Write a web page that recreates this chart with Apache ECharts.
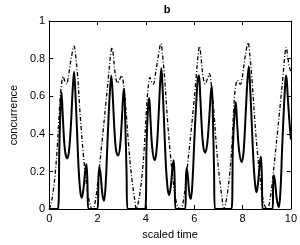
<!DOCTYPE html>
<html>
<head>
<meta charset="utf-8">
<script src="https://cdn.jsdelivr.net/npm/echarts@6/dist/echarts.min.js"></script>
<style>html,body{margin:0;padding:0;background:#fff;}#c{width:300px;height:245px;}</style>
</head>
<body>
<div id="c"></div>
<script>
// Solid curve (scaled time, concurrence)
var solidTime = [0,0.36,0.42,0.47,0.51,0.56,0.62,0.68,0.75,0.82,0.90,0.97,1.03,1.08,1.15,1.22,1.29,1.35,1.42,1.49,1.54,1.58,1.62,
  2.00,2.04,2.08,2.13,2.20,2.27,2.34,2.42,2.50,2.57,2.63,2.70,2.77,2.85,2.93,3.00,3.06,3.10,3.15,3.20,3.24,
  3.97,4.03,4.09,4.14,4.19,4.26,4.36,4.44,4.52,4.59,4.64,4.69,4.76,4.83,4.90,4.96,5.03,5.10,5.15,5.19,5.23,
  5.63,5.66,5.69,5.74,5.80,5.86,5.93,6.01,6.09,6.15,6.20,6.25,6.32,6.39,6.46,6.54,6.62,6.69,6.73,6.78,6.82,6.86,
  7.54,7.60,7.67,7.72,7.77,7.85,7.96,8.04,8.12,8.20,8.26,8.31,8.38,8.45,8.52,8.58,8.65,8.72,8.76,8.80,8.83,
  9.24,9.27,9.30,9.35,9.42,9.50,9.57,9.64,9.72,9.78,9.81,9.86,9.92,10.0];
var solidValue = [0,0,0.33,0.55,0.62,0.50,0.36,0.29,0.27,0.31,0.45,0.63,0.73,0.63,0.42,0.21,0.09,0.06,0.11,0.20,0.24,0.15,0,
  0,0.17,0.225,0.18,0.08,0.045,0.14,0.38,0.60,0.71,0.60,0.42,0.31,0.285,0.33,0.46,0.60,0.64,0.45,0.20,0,
  0,0.35,0.54,0.59,0.48,0.33,0.26,0.31,0.48,0.67,0.75,0.65,0.44,0.23,0.11,0.075,0.12,0.22,0.26,0.16,0,
  0,0.17,0.22,0.17,0.08,0.055,0.15,0.38,0.58,0.69,0.71,0.60,0.42,0.32,0.30,0.35,0.48,0.62,0.655,0.45,0.22,0,
  0,0.33,0.51,0.57,0.47,0.32,0.25,0.30,0.48,0.68,0.76,0.66,0.46,0.26,0.13,0.09,0.15,0.25,0.28,0.17,0,
  0,0.14,0.18,0.14,0.05,0.01,0.10,0.33,0.56,0.69,0.71,0.62,0.50,0.37];

// Dash-dot curve (scaled time, concurrence)
var dashTime = [0,0.08,0.17,0.25,0.33,0.42,0.49,0.58,0.65,0.72,0.80,0.91,1.03,1.10,1.19,1.25,1.32,1.42,1.51,1.60,1.70,1.78,
  1.86,1.93,2.00,2.09,2.22,2.35,2.45,2.54,2.60,2.66,2.73,2.83,2.92,3.00,3.06,3.13,3.20,3.28,3.37,3.46,3.55,3.60,
  3.68,3.77,3.85,3.93,4.02,4.09,4.17,4.24,4.31,4.40,4.51,4.62,4.69,4.78,4.85,4.92,5.02,5.11,5.20,5.30,5.42,
  5.50,5.57,5.64,5.73,5.86,5.99,6.08,6.16,6.22,6.28,6.35,6.45,6.54,6.63,6.69,6.76,6.83,6.91,7.00,7.09,7.17,7.22,
  7.30,7.39,7.47,7.55,7.63,7.70,7.79,7.86,7.92,8.01,8.12,8.23,8.30,8.39,8.46,8.53,8.63,8.72,8.81,8.91,9.02,
  9.08,9.15,9.22,9.31,9.44,9.57,9.67,9.75,9.81,9.87,9.93,10.0];
var dashValue = [0,0.03,0.10,0.19,0.32,0.52,0.64,0.705,0.68,0.665,0.71,0.80,0.866,0.81,0.685,0.56,0.435,0.28,0.17,0.08,0.02,0,
  0.015,0.06,0.13,0.24,0.40,0.57,0.70,0.82,0.86,0.81,0.72,0.67,0.69,0.71,0.68,0.60,0.49,0.35,0.22,0.12,0.04,0,
  0.03,0.10,0.19,0.32,0.52,0.64,0.70,0.675,0.665,0.72,0.81,0.88,0.82,0.69,0.56,0.43,0.28,0.17,0.08,0.02,0,
  0.015,0.06,0.13,0.24,0.40,0.57,0.70,0.82,0.865,0.81,0.72,0.665,0.69,0.72,0.68,0.60,0.49,0.35,0.22,0.12,0.04,0,
  0.03,0.10,0.19,0.32,0.52,0.64,0.685,0.67,0.665,0.72,0.82,0.885,0.82,0.69,0.56,0.43,0.28,0.17,0.08,0.02,0,
  0.015,0.06,0.13,0.24,0.40,0.57,0.70,0.82,0.86,0.81,0.76,0.73];

var xTicks = [0, 2, 4, 6, 8, 10];
var yTicks = [0, 0.2, 0.4, 0.6, 0.8, 1];

function zip(a, b) { return a.map(function (v, i) { return [v, b[i]]; }); }

var font = 'Liberation Sans, Arial, sans-serif';
var chart = echarts.init(document.getElementById('c'), null, {renderer: 'canvas'});
var axisCommon = {
  axisLine: {show: true, onZero: false, lineStyle: {color: '#000', width: 1}},
  axisTick: {show: true, inside: true, length: 4, lineStyle: {color: '#000'}},
  splitLine: {show: false}
};
chart.setOption({
  animation: false,
  backgroundColor: '#fff',
  title: {text: 'b', left: 162, top: -1, textAlign: 'center',
    textStyle: {fontFamily: font, fontSize: 11, fontWeight: 'bold', color: '#000'}},
  grid: {left: 32, right: 8, top: 21, bottom: 25, show: false},
  xAxis: [
    Object.assign({type: 'value', position: 'bottom', min: xTicks[0], max: xTicks[xTicks.length - 1], interval: 2,
      name: 'scaled time', nameLocation: 'middle', nameGap: 13,
      nameTextStyle: {fontFamily: font, fontSize: 11, color: '#000'},
      axisLabel: {fontFamily: font, fontSize: 11, color: '#000', margin: 4}}, axisCommon),
    Object.assign({type: 'value', position: 'top', min: xTicks[0], max: xTicks[xTicks.length - 1], interval: 2,
      axisLabel: {show: false}}, axisCommon)
  ],
  yAxis: [
    Object.assign({type: 'value', position: 'left', min: yTicks[0], max: yTicks[yTicks.length - 1], interval: 0.2,
      name: 'concurrence', nameLocation: 'middle', nameGap: 24, nameRotate: 90,
      nameTextStyle: {fontFamily: font, fontSize: 11, color: '#000'},
      axisLabel: {fontFamily: font, fontSize: 11, color: '#000', margin: 4,
        formatter: function (v) { return String(+v.toFixed(1)); }}}, axisCommon),
    Object.assign({type: 'value', position: 'right', min: yTicks[0], max: yTicks[yTicks.length - 1], interval: 0.2,
      axisLabel: {show: false}}, axisCommon)
  ],
  series: [
    {type: 'line', data: zip(dashTime, dashValue), showSymbol: false, smooth: 0.35,
      lineStyle: {color: '#000', width: 1.3, type: [4, 2, 1, 2]}},
    {type: 'line', data: zip(solidTime, solidValue), showSymbol: false, smooth: 0.35,
      lineStyle: {color: '#000', width: 2}}
  ]
});
</script>
</body>
</html>
